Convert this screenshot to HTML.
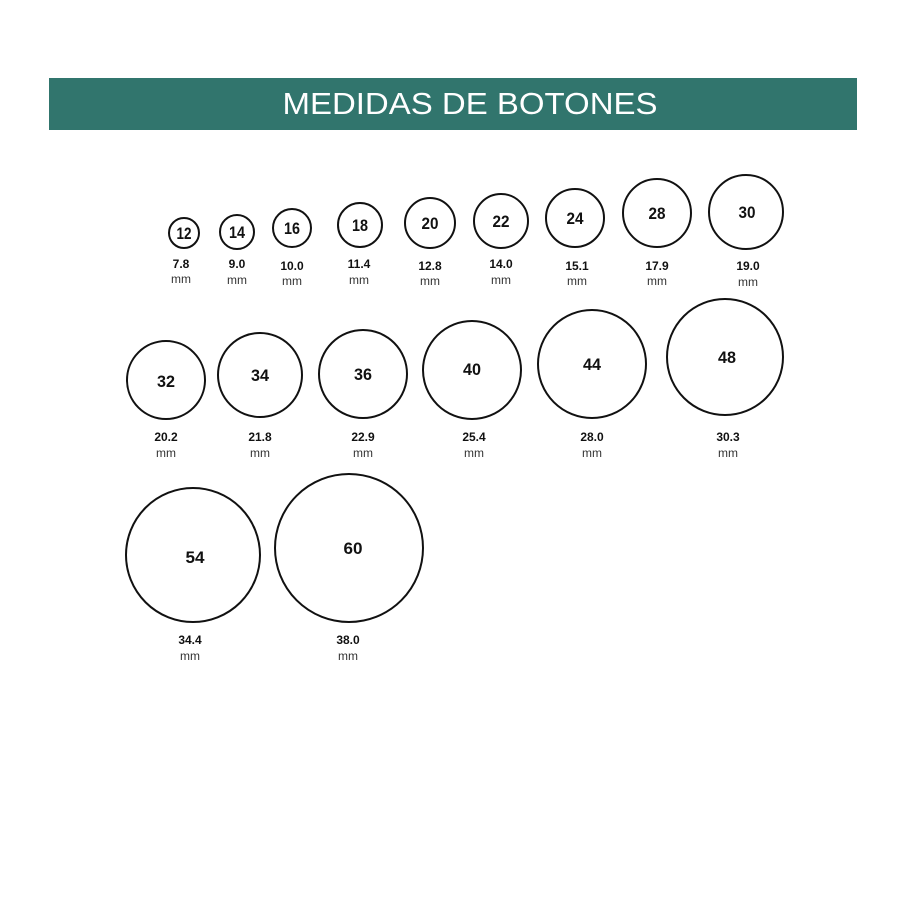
<!DOCTYPE html>
<html><head><meta charset="utf-8"><style>
html,body{margin:0;padding:0;background:#fff;}
svg{display:block;}
.n{font-family:"Liberation Sans",sans-serif;font-weight:bold;font-size:17px;fill:#111;text-anchor:middle;}
.v{font-family:"Liberation Sans",sans-serif;font-weight:bold;font-size:12px;fill:#111;text-anchor:middle;}
.m{font-family:"Liberation Sans",sans-serif;font-size:12px;fill:#333;text-anchor:middle;}
circle{fill:none;stroke:#111;stroke-width:2;}
</style></head><body>
<svg width="900" height="900" viewBox="0 0 900 900" xmlns="http://www.w3.org/2000/svg">
<rect x="49" y="78" width="808" height="52" fill="#31756d"/>
<text x="470" y="114" text-anchor="middle" font-family="Liberation Sans,sans-serif" font-size="31" fill="#fff" textLength="375" lengthAdjust="spacingAndGlyphs">MEDIDAS DE BOTONES</text>

<g>
<circle cx="184" cy="233" r="15"/><text class="n" x="184" y="239" textLength="15" lengthAdjust="spacingAndGlyphs">12</text><text class="v" x="181" y="268">7.8</text><text class="m" x="181" y="283">mm</text>
<circle cx="237" cy="232" r="17"/><text class="n" x="237" y="238" textLength="16" lengthAdjust="spacingAndGlyphs">14</text><text class="v" x="237" y="268">9.0</text><text class="m" x="237" y="284">mm</text>
<circle cx="292" cy="228" r="19"/><text class="n" x="292" y="234" textLength="16" lengthAdjust="spacingAndGlyphs">16</text><text class="v" x="292" y="270">10.0</text><text class="m" x="292" y="285">mm</text>
<circle cx="360" cy="225" r="22"/><text class="n" x="360" y="231" textLength="16" lengthAdjust="spacingAndGlyphs">18</text><text class="v" x="359" y="268">11.4</text><text class="m" x="359" y="284">mm</text>
<circle cx="430" cy="223" r="25"/><text class="n" x="430" y="229" textLength="17" lengthAdjust="spacingAndGlyphs">20</text><text class="v" x="430" y="270">12.8</text><text class="m" x="430" y="285">mm</text>
<circle cx="501" cy="221" r="27"/><text class="n" x="501" y="227" textLength="17" lengthAdjust="spacingAndGlyphs">22</text><text class="v" x="501" y="268">14.0</text><text class="m" x="501" y="284">mm</text>
<circle cx="575" cy="218" r="29"/><text class="n" x="575" y="224" textLength="17" lengthAdjust="spacingAndGlyphs">24</text><text class="v" x="577" y="270">15.1</text><text class="m" x="577" y="285">mm</text>
<circle cx="657" cy="213" r="34"/><text class="n" x="657" y="219" textLength="17" lengthAdjust="spacingAndGlyphs">28</text><text class="v" x="657" y="270">17.9</text><text class="m" x="657" y="285">mm</text>
<circle cx="746" cy="212" r="37"/><text class="n" x="747" y="218" textLength="17" lengthAdjust="spacingAndGlyphs">30</text><text class="v" x="748" y="270">19.0</text><text class="m" x="748" y="286">mm</text>

<circle cx="166" cy="380" r="39"/><text class="n" x="166" y="387" textLength="18" lengthAdjust="spacingAndGlyphs">32</text><text class="v" x="166" y="441">20.2</text><text class="m" x="166" y="457">mm</text>
<circle cx="260" cy="375" r="42"/><text class="n" x="260" y="381" textLength="18" lengthAdjust="spacingAndGlyphs">34</text><text class="v" x="260" y="441">21.8</text><text class="m" x="260" y="457">mm</text>
<circle cx="363" cy="374" r="44"/><text class="n" x="363" y="380" textLength="18" lengthAdjust="spacingAndGlyphs">36</text><text class="v" x="363" y="441">22.9</text><text class="m" x="363" y="457">mm</text>
<circle cx="472" cy="370" r="49"/><text class="n" x="472" y="375" textLength="18" lengthAdjust="spacingAndGlyphs">40</text><text class="v" x="474" y="441">25.4</text><text class="m" x="474" y="457">mm</text>
<circle cx="592" cy="364" r="54"/><text class="n" x="592" y="370" textLength="18" lengthAdjust="spacingAndGlyphs">44</text><text class="v" x="592" y="441">28.0</text><text class="m" x="592" y="457">mm</text>
<circle cx="725" cy="357" r="58"/><text class="n" x="727" y="363" textLength="18" lengthAdjust="spacingAndGlyphs">48</text><text class="v" x="728" y="441">30.3</text><text class="m" x="728" y="457">mm</text>

<circle cx="193" cy="555" r="67"/><text class="n" x="195" y="563" textLength="19" lengthAdjust="spacingAndGlyphs">54</text><text class="v" x="190" y="644">34.4</text><text class="m" x="190" y="660">mm</text>
<circle cx="349" cy="548" r="74"/><text class="n" x="353" y="554" textLength="19" lengthAdjust="spacingAndGlyphs">60</text><text class="v" x="348" y="644">38.0</text><text class="m" x="348" y="660">mm</text>
</g>
</svg>
</body></html>
